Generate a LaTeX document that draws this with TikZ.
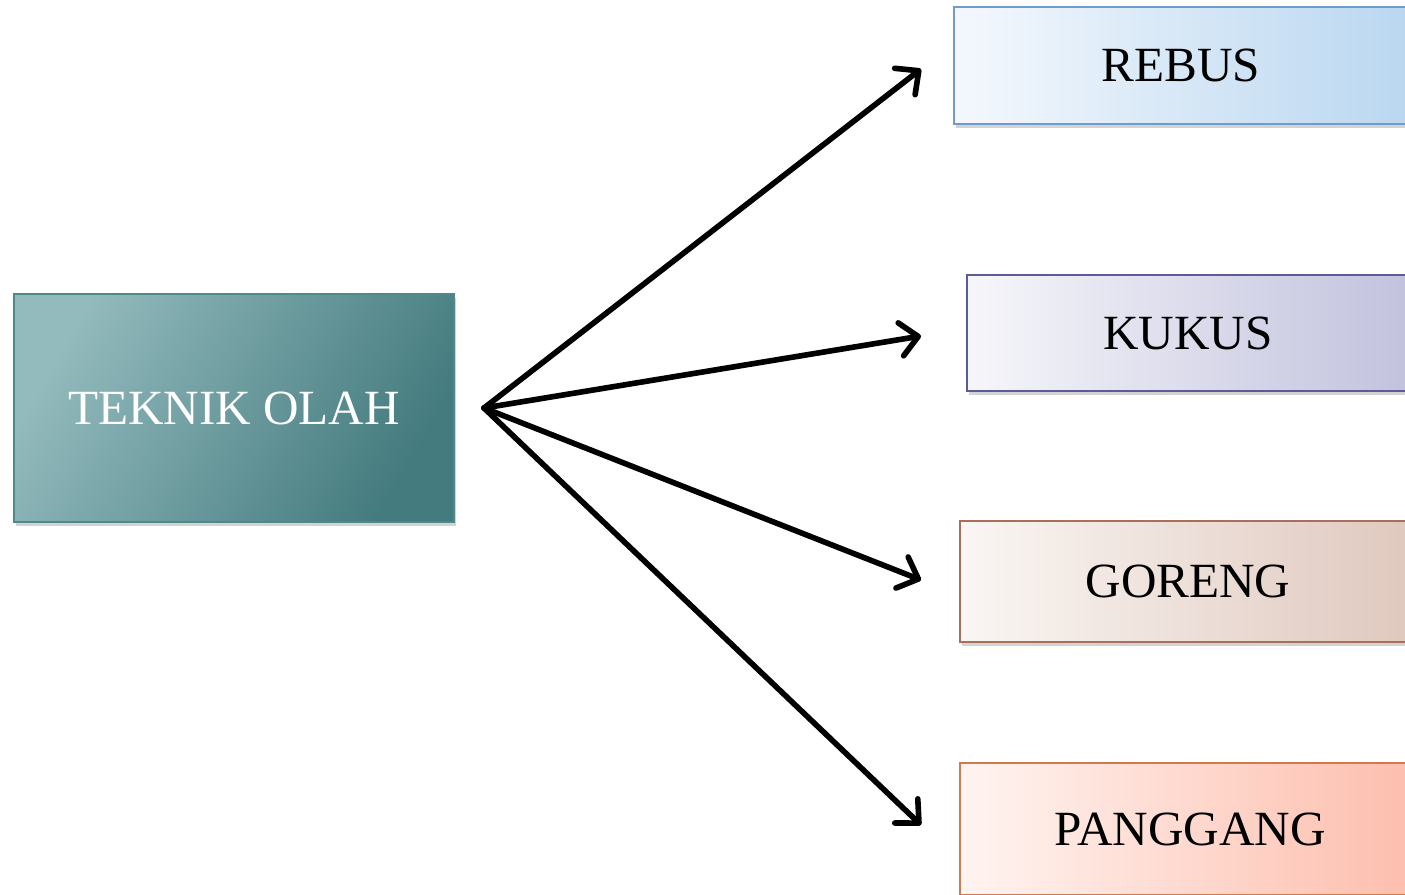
\documentclass[tikz,border=0pt]{standalone}
\usepackage{fontspec}
\setmainfont{Liberation Serif}
\usetikzlibrary{arrows.meta,shadows}
\definecolor{tealA}{HTML}{93BABD}
\definecolor{tealB}{HTML}{447B7E}
\definecolor{tealL}{HTML}{4E8A8C}
\definecolor{rebA}{HTML}{F4F8FD}
\definecolor{rebB}{HTML}{BAD7F0}
\definecolor{rebL}{HTML}{6F9CCC}
\definecolor{kukA}{HTML}{F6F6FA}
\definecolor{kukB}{HTML}{C2C2DE}
\definecolor{kukL}{HTML}{5B5B98}
\definecolor{gorA}{HTML}{FAF6F3}
\definecolor{gorB}{HTML}{DFC8BE}
\definecolor{gorL}{HTML}{A8705A}
\definecolor{panA}{HTML}{FFF4F1}
\definecolor{panB}{HTML}{FDBDAC}
\definecolor{panL}{HTML}{D07A50}
\tikzset{
  box/.style={rectangle, inner sep=0pt, line width=1pt,
    font=\fontsize{28}{32}\selectfont,
    drop shadow={shadow xshift=1.2pt, shadow yshift=-2pt, opacity=0.35}},
  conn/.style={line width=3.2pt, line cap=round,
    -{Straight Barb[length=10pt,width=19pt,line width=3.2pt,line cap=round,line join=round]}}
}
\begin{document}
\begin{tikzpicture}[x=0.02cm,y=-0.02cm]
\useasboundingbox (0,0) rectangle (1405,894);
\clip (0,0) rectangle (1405,894);
\node[box, draw=tealL, left color=tealA, right color=tealB, shading angle=60,
  minimum width=8.8cm, minimum height=4.56cm, text=white] (teknik) at (234,408) {TEKNIK OLAH};
\node[box, draw=rebL, left color=rebA, right color=rebB,
  minimum width=9.08cm, minimum height=2.34cm] (rebus) at (1181,65.5) {REBUS};
\node[box, draw=kukL, left color=kukA, right color=kukB,
  minimum width=8.84cm, minimum height=2.32cm] (kukus) at (1188,333) {KUKUS};
\node[box, draw=gorL, left color=gorA, right color=gorB,
  minimum width=9.12cm, minimum height=2.42cm] (goreng) at (1188,581.5) {GORENG};
\node[box, draw=panL, left color=panA, right color=panB,
  minimum width=9.2cm, minimum height=2.64cm] (panggang) at (1190,829) {PANGGANG};
\coordinate (src) at (484,408);
\coordinate (t1) at (921,69);
\coordinate (t2) at (921,336);
\coordinate (t3) at (921,580);
\coordinate (t4) at (921,825);
\draw[conn] (src) -- (t1);
\draw[conn] (src) -- (t2);
\draw[conn] (src) -- (t3);
\draw[conn] (src) -- (t4);
\end{tikzpicture}
\end{document}
